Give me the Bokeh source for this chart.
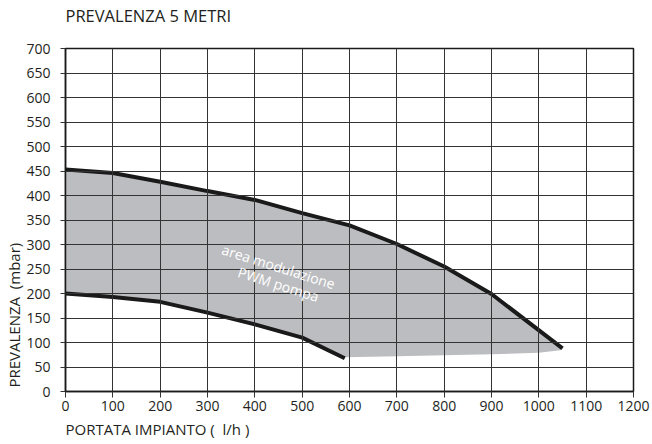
from bokeh.plotting import figure
from bokeh.models import FixedTicker, Label, Range1d, Title
from bokeh.embed import file_html
from bokeh.resources import INLINE

# ---- data ----
x_ticks = list(range(0, 1201, 100))
y_ticks = list(range(0, 701, 50))

upper_x = [0, 100, 200, 300, 400, 500, 600, 700, 800, 900, 1050]
upper_y = [453, 446, 428, 409, 391, 364, 339, 301, 255, 199, 88]

lower_x = [0, 100, 200, 300, 400, 500, 590]
lower_y = [200, 193, 183, 161, 137, 110, 68]

area_bottom_x = [590, 700, 800, 900, 1000, 1045]
area_bottom_y = [70, 72, 74, 76, 79, 84]

title_text = "PREVALENZA 5 METRI"
x_label = "PORTATA IMPIANTO (\u00a0 l/h )"
y_label = "PREVALENZA\u00a0 (mbar)"
area_lines = ["area modulazione", "PWM pompa"]

FONT = "Open Sans"
TXT = "#231f20"

p = figure(width=652, height=444, output_backend="svg", toolbar_location=None,
           x_range=Range1d(0, 1200), y_range=Range1d(0, 700),
           min_border_left=65, min_border_right=19, min_border_top=47, min_border_bottom=53)

# shaded area polygon: upper curve, then bottom edge back, then lower curve back
poly_x = upper_x + area_bottom_x[::-1] + lower_x[::-1][1:]
poly_y = upper_y + area_bottom_y[::-1] + lower_y[::-1][1:]
p.patch(poly_x, poly_y, fill_color="#bcbdc0", line_color=None, level="underlay")

p.line(upper_x, upper_y, line_color="#1a1a1a", line_width=4)
p.line(lower_x, lower_y, line_color="#1a1a1a", line_width=4)

# grid
p.xgrid.ticker = FixedTicker(ticks=x_ticks)
p.ygrid.ticker = FixedTicker(ticks=y_ticks)
for g in (p.xgrid, p.ygrid):
    g.grid_line_color = "#333333"
    g.grid_line_width = 1
    g.level = "glyph"
p.background_fill_color = "white"
p.outline_line_color = "#1a1a1a"
p.outline_line_width = 1.5

# axes
p.xaxis.ticker = FixedTicker(ticks=x_ticks)
p.yaxis.ticker = FixedTicker(ticks=y_ticks)
for ax in (p.xaxis, p.yaxis):
    ax.axis_line_color = "#1a1a1a"
    ax.axis_line_width = 1.5
    ax.major_tick_line_color = "#333333"
    ax.major_tick_in = 0
    ax.minor_tick_line_color = None
    ax.major_label_text_font = FONT
    ax.major_label_text_font_size = "14px"
    ax.major_label_text_color = TXT
p.xaxis.major_tick_out = 6
p.xaxis.major_label_standoff = 3
p.yaxis.major_tick_out = 5
p.yaxis.major_label_standoff = 10

# titles / axis labels (trailing empty line lifts the title a little)
p.title.text = title_text + "\n "
p.title.align = "left"
p.title.text_font = FONT
p.title.text_font_size = "16.5px"
p.title.text_font_style = "normal"
p.title.text_color = TXT
p.title.text_line_height = 0.85
p.title.standoff = 3

p.add_layout(Title(text=x_label, align="left", text_font=FONT, text_font_size="15px",
                   text_font_style="normal", text_color=TXT, standoff=7), "below")
p.add_layout(Title(text=y_label, align="left", text_font=FONT, text_font_size="15px",
                   text_font_style="normal", text_color=TXT, standoff=0, offset=4), "left")

# area annotation
p.add_layout(Label(x=450, y=255, text=area_lines[0], text_font=FONT, text_font_size="14px",
                   text_color="white", text_align="center", text_baseline="middle",
                   angle=-17.5, angle_units="deg"))
p.add_layout(Label(x=450, y=219, text=area_lines[1], text_font=FONT, text_font_size="14px",
                   text_color="white", text_align="center", text_baseline="middle",
                   angle=-17.5, angle_units="deg"))

open("out.html", "w").write(file_html(p, INLINE))
